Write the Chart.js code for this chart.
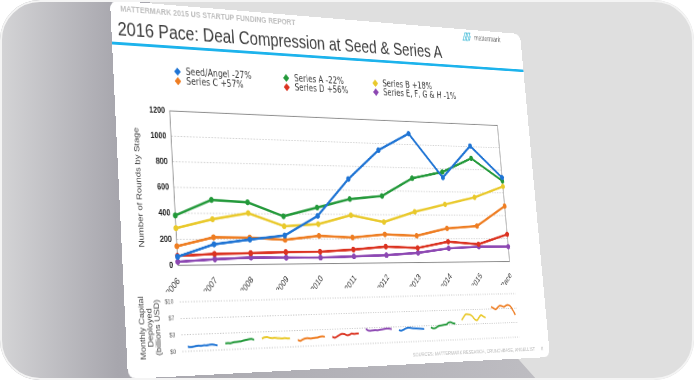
<!DOCTYPE html>
<html><head><meta charset="utf-8">
<script src="https://cdn.jsdelivr.net/npm/chart.js@4.4.1/dist/chart.umd.min.js"></script>
<style>
html,body{margin:0;padding:0;background:#fff;}
body{width:694px;height:380px;overflow:hidden;position:relative;font-family:"Liberation Sans",Arial,sans-serif;}
#frame{position:absolute;left:0;top:0;width:694px;height:380px;border-radius:40px;overflow:hidden;background:#dfdfdf;}
#shade{position:absolute;left:0;top:0;width:694px;height:380px;clip-path:polygon(0 0,150px 0,150px 200px,512px 352px,537px 380px,0 380px);background:linear-gradient(90deg,#d4d4d6 0px,#a7a6ad 118px,#b2b1b7 320px,#bebdc2 540px);}
#ring{position:absolute;left:0;top:0;width:694px;height:380px;box-sizing:border-box;border:2px solid #f4f4f4;border-radius:40px;}
#slide{position:absolute;left:0;top:0;background:#fff;border-radius:9px;transform-origin:0 0;overflow:hidden;}
#slide .abs{position:absolute;white-space:nowrap;}
#hdr{font-size:9px;font-weight:bold;color:#bdbdbd;letter-spacing:0.1px;}
#title{font-size:20.5px;color:#3d3d3d;}
#rule{height:3px;background:#1db3ec;left:0;}
#logo{font-size:8.5px;color:#777;display:flex;align-items:center;}
.lg{display:flex;align-items:center;font-family:"DejaVu Sans",sans-serif;font-size:10px;letter-spacing:0.1px;color:#3a3a3a;line-height:12px;}
.dm{width:6px;height:6px;transform:rotate(45deg);margin-right:8px;}
#foot{font-size:6px;color:#b8b8b8;}
</style></head>
<body>
<div id="frame">
  <div id="shade"></div>
  <div id="slide">
    <div class="abs" id="hdr">MATTERMARK 2015 US STARTUP FUNDING REPORT</div>
    <div class="abs" id="title">2016 Pace: Deal Compression at Seed &amp; Series A</div>
    <div class="abs" id="rule"></div>
    <div class="abs" id="logo"><svg width="17" height="11" viewBox="0 0 17 11"><path d="M1 10 L5 1 L8 1 L4 10 Z M6 10 L10 1 L13 1 L9 10 Z M11 10 L13.5 4.5" fill="none" stroke="#5cc4dd" stroke-width="1.2"/></svg><span style="margin-left:3px">mattermark</span></div>
    <div id="legend"></div>
    <div class="abs" id="lowBox"><canvas id="lowChart"></canvas></div>
    <div class="abs" id="mainBox"><canvas id="mainChart"></canvas></div>
    <div class="abs" id="foot">SOURCES: MATTERMARK RESEARCH, CRUNCHBASE, ANGELLIST&nbsp;&nbsp;&nbsp;&nbsp;&nbsp;&nbsp;8</div>
  </div>
  <div id="ring"></div>
</div>
<script>
// ---------- data ----------
const years = ['2006','2007','2008','2009','2010','2011','2012','2013','2014','2015','2016 Pace'];
const seriesNames = ['Seed/Angel -27%','Series A -22%','Series B +18%','Series C +57%','Series D +56%','Series E, F, G & H -1%'];
const seedAngel = [66,161,197,229,388,695,945,1095,725,1008,736];
const seriesA   = [384,508,492,383,456,529,558,713,773,899,707];
const seriesB   = [286,356,406,303,321,395,340,428,494,558,658];
const seriesC   = [147,215,212,194,226,212,237,226,288,309,485];
const seriesD   = [72,86,90,96,97,113,136,123,175,152,237];
const seriesE   = [28,45,55,52,50,57,65,82,118,131,130];
const yTickValues = [0,200,400,600,800,1000,1200];
// monthly capital deployed, billions USD
const m2006 = [0.95,0.85,0.9,1.0,1.05,1.0,1.1,1.05,1.15,1.2,1.1,0.95];
const m2007 = [1.3,1.35,1.3,1.45,1.5,1.55,1.6,1.75,1.85,1.95,2.0,1.8];
const m2008 = [1.95,2.2,2.25,2.1,2.0,2.05,1.95,1.9,1.85,1.9,1.8,1.8];
const m2009 = [1.4,1.2,1.45,1.65,1.7,1.6,1.65,1.7,1.75,1.9,1.95,1.85];
const m2010 = [1.75,1.55,1.8,2.1,2.3,2.25,2.0,2.05,2.3,2.2,2.25,2.25];
const m2011 = [3.2,2.8,2.75,2.8,2.85,2.8,2.9,2.95,3.05,3.1,3.05,2.9];
const m2012 = [2.65,2.5,2.7,2.95,3.1,3.05,2.95,2.9,2.85,2.8,2.75,2.7];
const m2013 = [3.0,2.75,2.8,3.1,3.3,3.35,3.45,3.5,3.9,3.95,3.7,3.6];
const m2014 = [4.3,5.0,5.6,5.6,5.5,5.1,4.4,4.2,4.8,5.3,5.0,4.7];
const m2015 = [7.1,6.8,6.5,6.9,7.3,7.2,7.0,7.3,7.4,7.1,6.2,5.1];
const monthly = [m2006,m2007,m2008,m2009,m2010,m2011,m2012,m2013,m2014,m2015];
const colors = ['#1f74d4','#23993a','#e9c92c','#ee7d22','#db3321','#8c47b2'];

// ---------- perspective ----------
const W = 595, H = 378;
const quad = [[110,0],[520,34],[550,357],[128,379]];
function homography(q, w, h){
  const [[x0,y0],[x1,y1],[x2,y2],[x3,y3]] = q;
  const dx1=x1-x2, dx2=x3-x2, dx3=x0-x1+x2-x3, dy1=y1-y2, dy2=y3-y2, dy3=y0-y1+y2-y3;
  const den=dx1*dy2-dx2*dy1;
  const g=(dx3*dy2-dx2*dy3)/den, hh=(dx1*dy3-dx3*dy1)/den;
  const a=x1-x0+g*x1, b=x3-x0+hh*x3, c=x0, d=y1-y0+g*y1, e=y3-y0+hh*y3, f=y0;
  return [a/w,b/h,c, d/w,e/h,f, g/w,hh/h,1];
}
function inv3(m){
  const [a,b,c,d,e,f,g,h,i]=m;
  const A=e*i-f*h, B=-(d*i-f*g), C=d*h-e*g;
  const det=a*A+b*B+c*C;
  return [A/det, -(b*i-c*h)/det, (b*f-c*e)/det,
          B/det, (a*i-c*g)/det, -(a*f-c*d)/det,
          C/det, -(a*h-b*g)/det, (a*e-b*d)/det];
}
const M = homography(quad, W, H);
const IM = inv3(M);
function toFlat(x,y){
  const X=IM[0]*x+IM[1]*y+IM[2], Y=IM[3]*x+IM[4]*y+IM[5], Z=IM[6]*x+IM[7]*y+IM[8];
  return [X/Z, Y/Z];
}
const slide = document.getElementById('slide');
slide.style.width = W+'px'; slide.style.height = H+'px';
slide.style.transform = `matrix3d(${M[0]},${M[3]},0,${M[6]},${M[1]},${M[4]},0,${M[7]},0,0,1,0,${M[2]},${M[5]},0,1)`;
function place(id, x, y, dx, dy){
  const p = toFlat(x,y); const el = document.getElementById(id);
  el.style.left = (p[0]+(dx||0))+'px'; el.style.top = (p[1]+(dy||0))+'px';
  return el;
}
place('hdr',120,5,0,-1);
place('title',118,21,-1,-4);
const rl = toFlat(112,43); const rule = document.getElementById('rule');
rule.style.top = (rl[1]-1.5)+'px'; rule.style.width = W+'px';
place('logo',462,37,0,-6);
place('foot',413,356,0,-4);

// legend
const legend = document.getElementById('legend');
const colX = [toFlat(178,72)[0], toFlat(287,78)[0], toFlat(376,85)[0]];
const rowY = [toFlat(178,72)[1], toFlat(178,81)[1]];
seriesNames.forEach((name,i)=>{
  const it = document.createElement('div');
  it.className='abs lg';
  it.style.left = (colX[i%3]-4)+'px';
  it.style.top = (rowY[Math.floor(i/3)]-6)+'px';
  it.innerHTML = `<div class="dm" style="background:${colors[i]}"></div><span></span>`;
  it.querySelector('span').textContent = name;
  legend.appendChild(it);
});

Chart.defaults.font.family = '"Liberation Sans", Arial, sans-serif';
Chart.defaults.color = '#333';

const framePlugin = {
  id:'frameBox',
  beforeDatasetsDraw(chart, args, opts){
    if(!opts.on) return;
    const {ctx, chartArea:a} = chart;
    ctx.save(); ctx.strokeStyle = opts.color; ctx.lineWidth = 1;
    ctx.strokeRect(a.left, a.top, a.right-a.left, a.bottom-a.top);
    ctx.restore();
  }
};

// ---------- main chart ----------
(function(){
  const a=toFlat(170,108), b=toFlat(497,123), c=toFlat(510,260), d=toFlat(178,268);
  const pl=(a[0]+d[0])/2, pr=(b[0]+c[0])/2, pt=(a[1]+b[1])/2, pb=(c[1]+d[1])/2;
  const left = toFlat(137,187)[0]-3;
  const yw = pl-left, padT=8, padR=14, padB=30;
  const xh = toFlat(180,292)[1]-pb;
  const top = pt-padT, width = pr+padR-left, height = pb+xh+padB-top;
  const box = document.getElementById('mainBox');
  box.style.left=left+'px'; box.style.top=top+'px'; box.style.width=width+'px'; box.style.height=height+'px';
  const cv = document.getElementById('mainChart'); cv.width=width; cv.height=height;
  cv.style.width=width+'px'; cv.style.height=height+'px';
  const series=[seedAngel,seriesA,seriesB,seriesC,seriesD,seriesE];
  new Chart(cv,{
    type:'line',
    data:{labels:years, datasets: series.map((s,i)=>({label:seriesNames[i], data:s, borderColor:colors[i], backgroundColor:colors[i], borderWidth:2.6, pointRadius:1.8, pointHoverRadius:1.8, tension:0}))},
    options:{
      responsive:false, animation:false, devicePixelRatio:2,
      layout:{padding:{top:padT,right:padR,left:0,bottom:padB}},
      plugins:{legend:{display:false}, tooltip:{enabled:false}, frameBox:{on:true,color:'#8a8a8a'}},
      scales:{
        x:{offset:false, grid:{display:false}, border:{display:false},
           ticks:{autoSkip:false, minRotation:45, maxRotation:45, font:{size:9.5}, color:'#333', padding:2},
           afterFit:s=>{s.height=xh;}},
        y:{min:0,max:1200, grid:{color:'#cfcfcf', lineWidth:1, drawTicks:false}, border:{display:false, dash:[2,2]},
           ticks:{stepSize:100, padding:6, font:{size:9, weight:'bold'}, color:'#222',
                  callback:v=> yTickValues.includes(v) ? String(v) : ''},
           title:{display:true, text:'Number of Rounds by Stage', font:{size:9.5}, color:'#444', padding:{top:0,bottom:2}},
           afterFit:s=>{s.width=yw;}}
      }
    },
    plugins:[framePlugin]
  });
})();

// ---------- lower chart ----------
(function(){
  const a=toFlat(180,293), b=toFlat(517,291), c=toFlat(519,346), d=toFlat(182,354);
  const pl=(a[0]+d[0])/2, pr=(b[0]+c[0])/2, pt=(a[1]+b[1])/2, pb=(c[1]+d[1])/2;
  const left = toFlat(141,322)[0]-3;
  const yw = pl-left, padT=6, padR=4, padB=6;
  const top = pt-padT, width = pr+padR-left, height = pb+padB-top;
  const box = document.getElementById('lowBox');
  box.style.left=left+'px'; box.style.top=top+'px'; box.style.width=width+'px'; box.style.height=height+'px';
  const cv = document.getElementById('lowChart'); cv.width=width; cv.height=height;
  cv.style.width=width+'px'; cv.style.height=height+'px';
  new Chart(cv,{
    type:'line',
    data:{datasets: monthly.map((arr,i)=>({data:arr.map((v,j)=>({x:i*14+j, y:v})), borderColor:colors[i%6], borderWidth:2, pointRadius:0, tension:0.3}))},
    options:{
      responsive:false, animation:false, devicePixelRatio:2,
      layout:{padding:{top:padT,right:padR,left:0,bottom:padB}},
      plugins:{legend:{display:false}, tooltip:{enabled:false}, frameBox:{on:false}},
      scales:{
        x:{type:'linear', min:-2, max:138, display:false},
        y:{min:0,max:10, grid:{color:'#c4c4c4', drawTicks:false}, border:{display:false, dash:[1.5,2]},
           ticks:{count:7, padding:8, font:{size:6.5}, color:'#555', callback:v=>'$'+Math.round(v)},
           title:{display:true, text:['Monthly Capital','Deployed','(billions USD)'], font:{size:9, lineHeight:1.05}, color:'#444', padding:{top:0,bottom:2}},
           afterFit:s=>{s.width=yw;}}
      }
    },
    plugins:[framePlugin]
  });
})();
</script>
</body></html>
